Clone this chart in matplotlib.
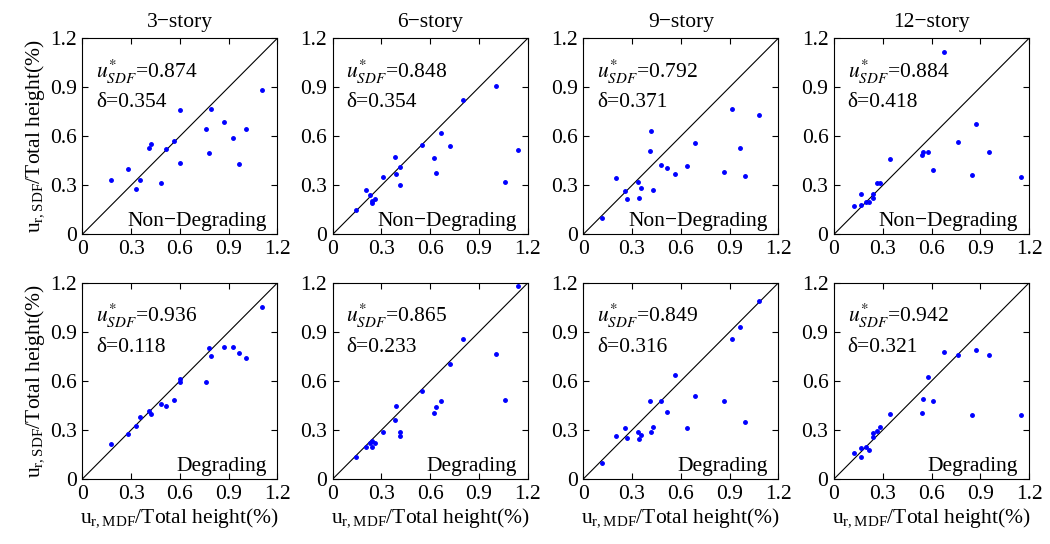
import matplotlib.pyplot as plt

plt.rcParams['font.family'] = ['Liberation Serif', 'DejaVu Serif']
plt.rcParams['mathtext.fontset'] = 'stix'

# MDF drifts (x) and SDF drifts (y) for each building, % of total height
stories = ['3−story', '6−story', '9−story', '12−story']

x3 = [0.177, 0.284, 0.331, 0.356, 0.409, 0.420, 0.486, 0.512, 0.564, 0.603,
      0.603, 0.761, 0.778, 0.794, 0.872, 0.928, 0.963, 1.006, 1.107]
y3_nd = [0.330, 0.400, 0.278, 0.335, 0.529, 0.553, 0.316, 0.522, 0.571, 0.761,
         0.435, 0.645, 0.500, 0.765, 0.688, 0.592, 0.433, 0.647, 0.884]
y3_d = [0.213, 0.278, 0.323, 0.382, 0.419, 0.397, 0.462, 0.448, 0.483, 0.613,
        0.595, 0.591, 0.804, 0.755, 0.808, 0.810, 0.773, 0.738, 1.055]

x6 = [0.145, 0.202, 0.227, 0.239, 0.242, 0.261, 0.312, 0.382, 0.388, 0.416,
      0.416, 0.547, 0.624, 0.635, 0.667, 0.722, 0.800, 1.002, 1.059, 1.143]
y6_nd = [0.151, 0.270, 0.239, 0.190, 0.204, 0.219, 0.348, 0.476, 0.372, 0.409,
         0.301, 0.544, 0.468, 0.378, 0.622, 0.542, 0.822, 0.906, 0.321, 0.519]
y6_d = [0.135, 0.196, 0.219, 0.233, 0.196, 0.219, 0.290, 0.360, 0.446, 0.290,
        0.264, 0.538, 0.406, 0.441, 0.480, 0.701, 0.858, 0.764, 0.486, 1.181]

x9 = [0.114, 0.204, 0.255, 0.267, 0.339, 0.340, 0.357, 0.408, 0.415, 0.427,
      0.480, 0.516, 0.567, 0.637, 0.688, 0.869, 0.914, 0.963, 0.998, 1.080]
y9_nd = [0.100, 0.346, 0.266, 0.217, 0.321, 0.223, 0.282, 0.511, 0.632, 0.274,
         0.425, 0.405, 0.372, 0.421, 0.556, 0.384, 0.765, 0.526, 0.354, 0.730]
y9_d = [0.100, 0.264, 0.315, 0.249, 0.286, 0.243, 0.272, 0.478, 0.286, 0.317,
        0.478, 0.409, 0.634, 0.315, 0.511, 0.478, 0.858, 0.930, 0.349, 1.089]

x12 = [0.123, 0.164, 0.168, 0.199, 0.217, 0.238, 0.242, 0.262, 0.281, 0.346,
       0.539, 0.545, 0.580, 0.609, 0.678, 0.764, 0.848, 0.871, 0.953, 1.148]
y12_nd = [0.174, 0.245, 0.180, 0.198, 0.196, 0.221, 0.245, 0.315, 0.317, 0.460,
          0.485, 0.503, 0.505, 0.395, 1.116, 0.566, 0.362, 0.677, 0.505, 0.352]
y12_d = [0.159, 0.192, 0.135, 0.198, 0.180, 0.259, 0.280, 0.296, 0.321, 0.399,
         0.401, 0.489, 0.626, 0.476, 0.777, 0.758, 0.391, 0.787, 0.762, 0.391]

xs = [x3, x6, x9, x12]
ys_nd = [y3_nd, y6_nd, y9_nd, y12_nd]
ys_d = [y3_d, y6_d, y9_d, y12_d]

u_nd = ['0.874', '0.848', '0.792', '0.884']
d_nd = ['0.354', '0.354', '0.371', '0.418']
u_d = ['0.936', '0.865', '0.849', '0.942']
d_d = ['0.118', '0.233', '0.316', '0.321']

ticks = [0, 0.3, 0.6, 0.9, 1.2]
tick_labels = ['0', '0.3', '0.6', '0.9', '1.2']

fig = plt.figure(figsize=(10.5, 5.44), dpi=100)

lefts = [0.0784, 0.3169, 0.5555, 0.7943]
bottoms = [0.5693, 0.1195]
w, h = 0.1857, 0.3603

for r in range(2):
    for c in range(4):
        ax = fig.add_axes([lefts[c], bottoms[r], w, h])
        yv = ys_nd[c] if r == 0 else ys_d[c]
        ax.plot([0, 1.2], [0, 1.2], color='k', lw=0.8)
        ax.plot(xs[c], yv, '.', color='#0000ff', markersize=5)
        ax.set_xlim(0, 1.2)
        ax.set_ylim(0, 1.2)
        ax.set_xticks(ticks)
        ax.set_yticks(ticks)
        ax.set_xticklabels(tick_labels)
        ax.set_yticklabels(tick_labels)
        ax.tick_params(direction='in', top=True, right=True, labelsize=15.5,
                       length=4, width=0.8, pad=4)
        for s in ax.spines.values():
            s.set_linewidth(0.8)

        uval = u_nd[c] if r == 0 else u_d[c]
        dval = d_nd[c] if r == 0 else d_d[c]
        ax.text(0.07, 0.83, r'$u^{*}_{SDF}$=' + uval, transform=ax.transAxes,
                fontsize=15.5, va='center', ha='left')
        ax.text(0.07, 0.67, 'δ=' + dval, transform=ax.transAxes,
                fontsize=15.5, va='center', ha='left')
        label = 'Non−Degrading' if r == 0 else 'Degrading'
        ax.text(0.945, 0.04, label, transform=ax.transAxes, fontsize=15.5,
                va='baseline', ha='right')

        if r == 0:
            ax.set_title(stories[c], fontsize=15.5, pad=8)
        if c == 0:
            ax.set_ylabel(r'$\mathregular{u_{r,SDF}}$/Total height(%)',
                          fontsize=15.5, labelpad=2)
        if r == 1:
            ax.set_xlabel(r'$\mathregular{u_{r,MDF}}$/Total height(%)',
                          fontsize=15.5, labelpad=2)

fig.savefig('out.png', dpi=100)
